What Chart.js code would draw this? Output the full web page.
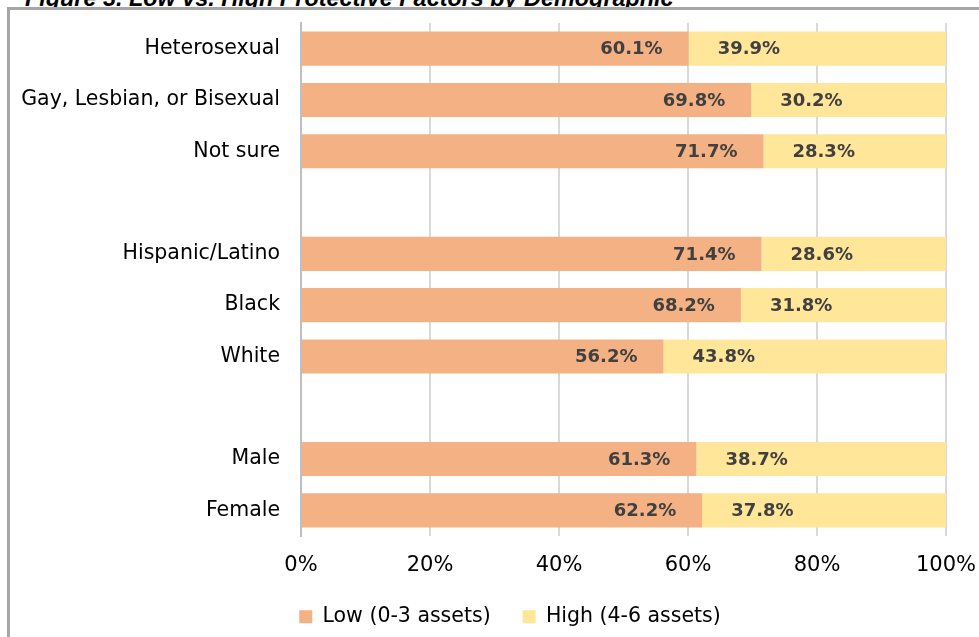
<!DOCTYPE html>
<html>
<head>
<meta charset="utf-8">
<script src="https://cdn.jsdelivr.net/npm/chart.js@4.4.1/dist/chart.umd.min.js"></script>
<style>
  html, body { margin: 0; padding: 0; background: #fff; overflow: hidden; }
  body { width: 979px; height: 637px; position: relative; }
  #title {
    position: absolute; left: 25px; top: -13.5px; margin: 0;
    font: italic bold 23.4px/23px "Liberation Sans", Arial, sans-serif;
    color: #000; white-space: nowrap; z-index: 1;
  }
  #frame {
    position: absolute; left: 7px; top: 7px; width: 1100px; height: 800px;
    border: 3px solid #a6a6a6; background: #fff; z-index: 2;
  }
  #wrap { position: absolute; left: 0; top: 0; width: 979px; height: 637px; z-index: 3; }
</style>
</head>
<body>
<div id="title">Figure 3. Low vs. High Protective Factors by Demographic</div>
<div id="frame"></div>
<div id="wrap"><canvas id="barChart"></canvas></div>
<script>
// Categorías (las vacías separan los grupos)
const categories = ["Heterosexual", "Gay, Lesbian, or Bisexual", "Not sure", "",
    "Hispanic/Latino", "Black", "White", "", "Male", "Female"];
const lowValues = [60.1, 69.8, 71.7, null, 71.4, 68.2, 56.2, null, 61.3, 62.2];   // Low (0-3 assets)
const highValues = [39.9, 30.2, 28.3, null, 28.6, 31.8, 43.8, null, 38.7, 37.8];  // High (4-6 assets)
const xTicks = [0, 20, 40, 60, 80, 100];

const fontFamily = "'DejaVu Sans', sans-serif";

// Etiquetas de datos: Low al final del tramo, High al inicio
const barLabels = {
    id: "barLabels",
    afterLayout(chart) {
        // la leyenda del original está algo desplazada a la derecha
        chart.legend.left += 37;
        chart.legend.right += 37;
    },
    afterDatasetsDraw(chart) {
        const ctx = chart.ctx;
        ctx.save();
        ctx.font = "bold 18px " + fontFamily;
        ctx.fillStyle = "#404040";
        ctx.textBaseline = "middle";
        chart.data.datasets.forEach((ds, i) => {
            const meta = chart.getDatasetMeta(i);
            meta.data.forEach((bar, j) => {
                const v = ds.data[j];
                if (v === null) return;
                const txt = v.toFixed(1) + "%";
                if (i === 0) {
                    ctx.textAlign = "right";
                    ctx.fillText(txt, bar.x - 26, bar.y + 1);
                } else {
                    ctx.textAlign = "left";
                    ctx.fillText(txt, bar.base + 29, bar.y + 1);
                }
            });
        });
        ctx.restore();
    }
};

const ctx = document.getElementById("barChart").getContext("2d");

new Chart(ctx, {
    type: "bar",
    data: {
        labels: categories,
        datasets: [
            {
                label: "Low (0-3 assets)",
                data: lowValues,
                backgroundColor: "#f4b183",
                borderWidth: 0,
                barPercentage: 0.664,
                categoryPercentage: 1,
            },
            {
                label: "High (4-6 assets)",
                data: highValues,
                backgroundColor: "#ffe699",
                borderWidth: 0,
                barPercentage: 0.664,
                categoryPercentage: 1,
            },
        ],
    },
    options: {
        indexAxis: "y",
        responsive: true,
        maintainAspectRatio: false,
        animation: false,
        layout: { padding: { top: 23, right: 33, bottom: 0, left: 0 } },
        plugins: {
            legend: {
                position: "bottom",
                labels: {
                    boxWidth: 13,
                    boxHeight: 13,
                    padding: 32,
                    color: "#000",
                    font: { family: fontFamily, size: 20.5 },
                },
            },
            tooltip: { enabled: false },
        },
        scales: {
            x: {
                stacked: true,
                min: 0,
                max: 100,
                afterBuildTicks: (scale) => {
                    scale.ticks = xTicks.map((v) => ({ value: v }));
                },
                afterFit: (scale) => {
                    scale.height = 38.5;
                    scale.paddingLeft = 0;
                    scale.paddingRight = 0;
                },
                ticks: {
                    padding: 16.5,
                    color: "#000",
                    font: { family: fontFamily, size: 21 },
                    callback: (v) => v + "%",
                },
                grid: { color: "#d9d9d9", lineWidth: 2, drawTicks: false },
                border: { display: false },
            },
            y: {
                stacked: true,
                afterFit: (scale) => {
                    scale.width = 301;
                    scale.paddingTop = 0;
                    scale.paddingBottom = 0;
                },
                ticks: {
                    padding: 21,
                    color: "#000",
                    font: { family: fontFamily, size: 20.5 },
                },
                grid: { display: false, drawTicks: false },
                border: { display: true, color: "#bfbfbf", width: 2 },
            },
        },
    },
    plugins: [barLabels],
});
</script>
</body>
</html>
